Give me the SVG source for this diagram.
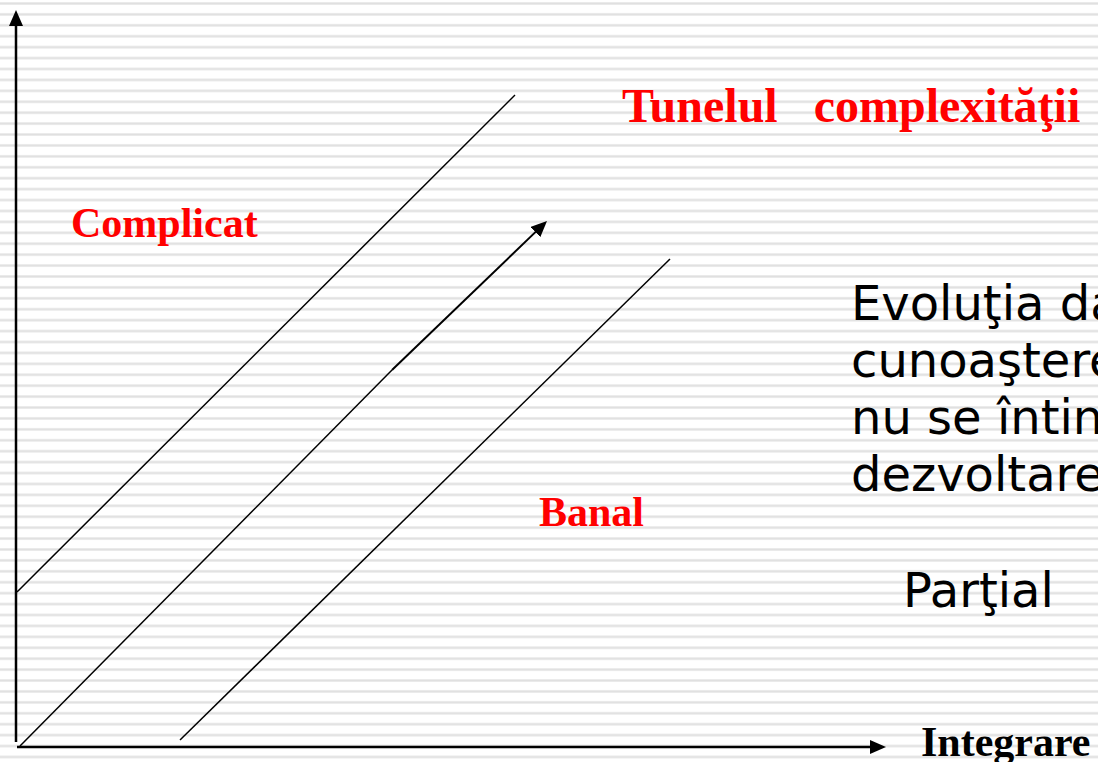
<svg xmlns="http://www.w3.org/2000/svg" width="1098" height="762" viewBox="0 0 1098 762">
<style>
.lbl{font-family:"Liberation Serif","Times New Roman",serif;font-weight:bold;font-size:42px;fill:#ff0000}
.ax{font-family:"Liberation Serif","Times New Roman",serif;font-weight:bold;font-size:42px;fill:#000}
.body{font-family:"DejaVu Sans",Verdana,sans-serif;font-size:48px;fill:#000}
.axis{stroke:#000;stroke-width:2.5;fill:none}
.thin{stroke:#000;stroke-width:1.5;fill:none}
.arr{stroke:#000;stroke-width:2;fill:none}
</style>
<defs>
<pattern id="stripes" patternUnits="userSpaceOnUse" x="0" y="2" width="20" height="10.92">
<rect x="0" y="0" width="20" height="3" fill="#ededed"/>
<rect x="0" y="0.8" width="20" height="1.4" fill="#e0e0e0"/>
</pattern>
<marker id="ah" viewBox="0 0 16 14" refX="6" refY="7" markerWidth="16" markerHeight="14" markerUnits="userSpaceOnUse" orient="auto">
<path d="M0,0 L16,7 L0,14 z" fill="#000"/>
</marker>
</defs>
<rect width="1098" height="762" fill="#fff"/>
<rect width="1098" height="762" fill="url(#stripes)"/>
<g id="connectors">
<line class="axis" x1="16" y1="742" x2="16" y2="20" marker-end="url(#ah)"/>
<line class="axis" x1="17" y1="747" x2="876" y2="747" marker-end="url(#ah)"/>
<line class="thin" x1="17" y1="592" x2="515" y2="95"/>
<line class="thin" x1="20" y1="746" x2="392" y2="370"/>
<line class="arr" x1="392" y1="370" x2="539.8" y2="227.9" marker-end="url(#ah)"/>
<line class="thin" x1="180" y1="740" x2="670" y2="259"/>
</g>
<g id="title"><text class="lbl" x="622" y="122" style="font-size:48px;white-space:pre" xml:space="preserve">Tunelul   complexităţii</text></g>
<g id="complicat"><text class="lbl" x="71" y="237">Complicat</text></g>
<g id="banal"><text class="lbl" x="539" y="526">Banal</text></g>
<g id="integrare"><text class="ax" x="921" y="756">Integrare</text></g>
<g id="evolutia">
<text class="body" x="851" y="320">Evoluţia da</text>
<text class="body" x="851" y="377">cunoaştere</text>
<text class="body" x="851" y="434">nu se întin</text>
<text class="body" x="851" y="491">dezvoltare</text>
</g>
<g id="partial"><text class="body" x="903" y="607">Parţial</text></g>
</svg>
